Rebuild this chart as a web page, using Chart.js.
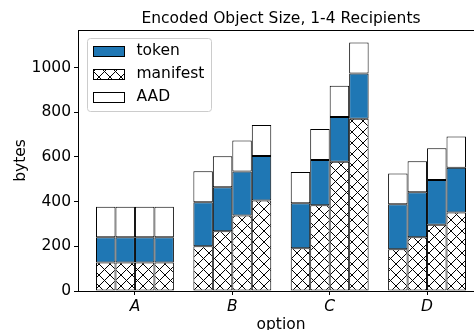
<!DOCTYPE html>
<html>
<head>
<meta charset="utf-8">
<script src="https://cdn.jsdelivr.net/npm/chart.js@4"></script>
<style>
  html, body { margin: 0; padding: 0; background: #fff; overflow: hidden; }
  canvas { display: block; }
</style>
</head>
<body>
<canvas id="chart" width="500" height="330"></canvas>
<script>
// ===== Data =====
const categories = ["A", "B", "C", "D"];
const recipientCounts = [1, 2, 3, 4];
// one row per option, one value per recipient count (bytes)
const manifestBytes = [[128, 128, 128, 128], [200, 267, 338, 405], [191, 384, 578, 771], [187, 241, 296, 351]];
const tokenBytes = [[112, 112, 112, 112], [197, 197, 197, 199], [202, 202, 201, 202], [201, 201, 201, 201]];
const aadBytes = [[137, 137, 137, 137], [139, 139, 139, 139], [139, 139, 140, 139], [138, 139, 142, 139]];
const yTicks = [0, 200, 400, 600, 800, 1000];

const FONT = "DejaVu Sans";
const BLUE = "#1f77b4";

// ===== Hatch pattern (matplotlib 'xx') =====
function makeHatch() {
  const n = 11;
  const c = document.createElement("canvas");
  c.width = n;
  c.height = n;
  const g = c.getContext("2d");
  g.fillStyle = "#fff";
  g.fillRect(0, 0, n, n);
  g.strokeStyle = "#000";
  g.lineWidth = 1;
  g.beginPath();
  g.moveTo(-1, -1); g.lineTo(n + 1, n + 1);
  g.moveTo(n + 1, -1); g.lineTo(-1, n + 1);
  g.stroke();
  return g.createPattern(c, "repeat");
}
const hatch = makeHatch();

// ===== Datasets: one stack per recipient count =====
function column(rows, r) {
  return rows.map((row, i) => ({ x: i, y: row[r] }));
}

const datasets = [];
recipientCounts.forEach((n, r) => {
  const common = { stack: "r" + n, borderColor: "#000", borderWidth: 1, borderSkipped: false, inflateAmount: 0 };
  datasets.push({ label: "manifest", data: column(manifestBytes, r), backgroundColor: hatch, ...common });
  datasets.push({ label: "token", data: column(tokenBytes, r), backgroundColor: BLUE, ...common });
  datasets.push({ label: "AAD", data: column(aadBytes, r), backgroundColor: "#fff", ...common });
});

// ===== Spines + legend =====
const frame = {
  id: "frame",
  afterDatasetsDraw(chart) {
    const { ctx, chartArea: a } = chart;
    ctx.save();
    ctx.strokeStyle = "#000";
    ctx.lineWidth = 1;
    ctx.strokeRect(Math.round(a.left) + 0.5, Math.round(a.top) + 0.5,
      Math.round(a.right - a.left), Math.round(a.bottom - a.top));
    ctx.restore();
  },
  afterDraw(chart) {
    const { ctx } = chart;
    const items = [
      { text: "token", fill: BLUE },
      { text: "manifest", fill: hatch },
      { text: "AAD", fill: "#fff" }
    ];
    ctx.save();
    // box
    const bx = 87.5, by = 38.5, bw = 124, bh = 73, rad = 3;
    ctx.beginPath();
    ctx.roundRect(bx, by, bw, bh, rad);
    ctx.fillStyle = "rgba(255,255,255,0.8)";
    ctx.fill();
    ctx.strokeStyle = "#cccccc";
    ctx.lineWidth = 1;
    ctx.stroke();
    ctx.font = "15.5px '" + FONT + "'";
    ctx.textBaseline = "middle";
    items.forEach((it, i) => {
      const cy = 51 + i * 23;
      ctx.fillStyle = it.fill;
      ctx.fillRect(93, cy - 5, 31, 10.5);
      ctx.strokeStyle = "#000";
      ctx.strokeRect(93.5, cy - 5 + 0.5, 31, 10);
      ctx.fillStyle = "#000";
      ctx.fillText(it.text, 136.5, cy);
    });
    ctx.restore();
  }
};

// ===== Chart =====
Chart.defaults.color = "#000";
Chart.defaults.font.family = FONT;
Chart.defaults.font.size = 15.5;

new Chart(document.getElementById("chart").getContext("2d"), {
  type: "bar",
  data: { datasets: datasets },
  options: {
    responsive: false,
    animation: false,
    categoryPercentage: 0.8,
    barPercentage: 1.0,
    layout: { padding: { left: 0, right: 16, top: 0, bottom: 0 } },
    plugins: {
      legend: { display: false },
      tooltip: { enabled: false },
      title: {
        display: true,
        fullSize: false,
        text: "Encoded Object Size, 1-4 Recipients",
        font: { size: 15.5, weight: "normal" },
        padding: { top: 9.2, bottom: 2.2 }
      }
    },
    scales: {
      x: {
        type: "linear",
        offset: false,
        min: -0.585,
        max: 3.585,
        afterBuildTicks: (s) => { s.ticks = categories.map((c, i) => ({ value: i })); },
        ticks: {
          padding: 3,
          autoSkip: false,
          maxRotation: 0,
          font: { style: "italic" },
          callback: (v) => categories[Math.round(v)] ?? ""
        },
        grid: { offset: false, drawOnChartArea: false, tickLength: 4, color: "#000" },
        border: { display: false },
        title: { display: true, text: "option", padding: { top: 0, bottom: -4.5 } },
        afterFit: (s) => { s.height = 39; }
      },
      y: {
        min: 0,
        max: 1168,
        afterBuildTicks: (s) => { s.ticks = yTicks.map(v => ({ value: v })); },
        ticks: { padding: 3, callback: (v) => String(v) },
        grid: { drawOnChartArea: false, tickLength: 4, color: "#000" },
        border: { display: false },
        title: { display: true, text: "bytes", padding: { top: 11.7, bottom: 0 } },
        afterFit: (s) => { s.width = 78; }
      }
    }
  },
  plugins: [frame]
});
</script>
</body>
</html>
